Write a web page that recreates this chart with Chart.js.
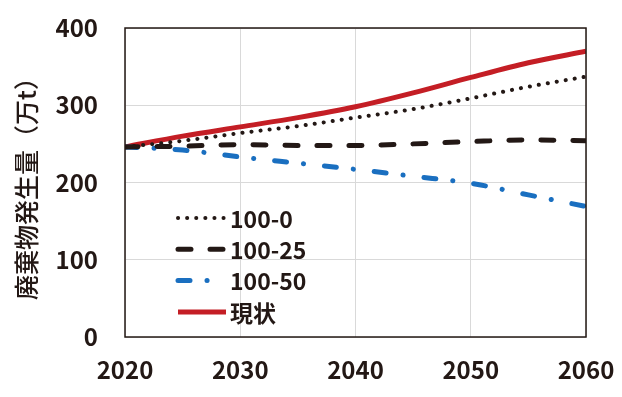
<!DOCTYPE html>
<html>
<head>
<meta charset="utf-8">
<script src="https://cdn.jsdelivr.net/npm/chart.js@4.4.1/dist/chart.umd.min.js"></script>
<style>
html,body{margin:0;padding:0;background:#fff;}
#wrap{width:622px;height:397px;position:relative;}
</style>
</head>
<body>
<div id="wrap"><canvas id="c" width="622" height="397"></canvas></div>
<script>
const years = [2020, 2025, 2030, 2035, 2040, 2045, 2050, 2055, 2060];
const s100_0  = [246, 254, 264, 273, 284, 295, 309, 324, 337];
const s100_25 = [246, 247, 249, 248, 248, 250, 253, 255, 254];
const s100_50 = [246, 242, 233, 225, 217, 208, 199, 184, 169];
const current = [246, 260, 272, 284, 298, 316, 336, 355, 370];
const seriesLabels = ['100-0', '100-25', '100-50', '現状'];
const yTicks = [0, 100, 200, 300, 400];
const xTicks = [2020, 2030, 2040, 2050, 2060];
const yTitle = '廃棄物発生量（万t）';

const FONT = '"Noto Sans CJK JP", "Noto Sans", sans-serif';
const toXY = arr => arr.map((v, i) => ({x: years[i], y: v}));

const frameAndLegend = {
  id: 'frameAndLegend',
  afterDatasetsDraw(chart) {
    const {ctx, chartArea: a} = chart;
    ctx.save();
    ctx.strokeStyle = '#231815';
    ctx.lineWidth = 1.5;
    ctx.strokeRect(a.left, a.top, a.right - a.left, a.bottom - a.top);
    ctx.restore();
  },
  afterDraw(chart) {
    const {ctx, chartArea: a} = chart;
    const x0 = a.left + 53, x1 = a.left + 101;
    const y0 = a.top + 190, dy = 31.3;
    chart.data.datasets.forEach((ds, i) => {
      const y = y0 + i * dy;
      ctx.save();
      ctx.strokeStyle = ds.borderColor;
      ctx.lineWidth = ds.borderWidth;
      ctx.lineCap = ds.borderCapStyle || 'butt';
      ctx.setLineDash(ds.borderDash || []);
      ctx.beginPath();
      ctx.moveTo(x0, y);
      ctx.lineTo(x1, y);
      ctx.stroke();
      ctx.restore();
      ctx.save();
      ctx.fillStyle = '#231815';
      ctx.font = 'bold 23px ' + FONT;
      ctx.textBaseline = 'middle';
      ctx.fillText(ds.label, a.left + 105, y + 1);
      ctx.restore();
    });
  }
};

new Chart(document.getElementById('c'), {
  type: 'line',
  data: {
    datasets: [
      {label: seriesLabels[0], data: toXY(s100_0), borderColor: '#231815', borderWidth: 4,
       borderDash: [0.1, 9], borderCapStyle: 'round', pointRadius: 0, cubicInterpolationMode: 'monotone'},
      {label: seriesLabels[1], data: toXY(s100_25), borderColor: '#231815', borderWidth: 5,
       borderDash: [13, 19], borderCapStyle: 'round', pointRadius: 0, cubicInterpolationMode: 'monotone'},
      {label: seriesLabels[2], data: toXY(s100_50), borderColor: '#1a6fc0', borderWidth: 5,
       borderDash: [12, 17, 0.1, 21], borderCapStyle: 'round', pointRadius: 0, cubicInterpolationMode: 'monotone'},
      {label: seriesLabels[3], data: toXY(current), borderColor: '#c41e25', borderWidth: 5,
       borderCapStyle: 'butt', pointRadius: 0, cubicInterpolationMode: 'monotone'}
    ]
  },
  options: {
    responsive: false,
    animation: false,
    layout: {padding: {top: 28, right: 36, left: 11, bottom: 0}},
    plugins: {legend: {display: false}, tooltip: {enabled: false}},
    scales: {
      x: {
        type: 'linear', min: 2020, max: 2060,
        afterBuildTicks: s => { s.ticks = xTicks.map(v => ({value: v})); },
        afterFit: s => { s.height = 60; s.paddingLeft = 0; s.paddingRight = 0; },
        grid: {color: '#d9d9d9', lineWidth: 1, drawTicks: false},
        border: {display: false},
        ticks: {padding: 18, color: '#231815', font: {family: FONT, size: 24, weight: 'bold'},
                callback: v => String(v), maxRotation: 0}
      },
      y: {
        min: 0, max: 400,
        afterBuildTicks: s => { s.ticks = yTicks.map(v => ({value: v})); },
        afterFit: s => { s.width = 114; s.paddingTop = 0; s.paddingBottom = 0; },
        grid: {color: '#d9d9d9', lineWidth: 1, drawTicks: false},
        border: {display: false},
        ticks: {padding: 27, color: '#231815', font: {family: FONT, size: 24, weight: 'bold'}},
        title: {display: true, text: yTitle, color: '#231815',
                font: {family: FONT, size: 25, weight: '500'}, padding: {top: 0, bottom: 0}}
      }
    }
  },
  plugins: [frameAndLegend]
});
</script>
</body>
</html>
